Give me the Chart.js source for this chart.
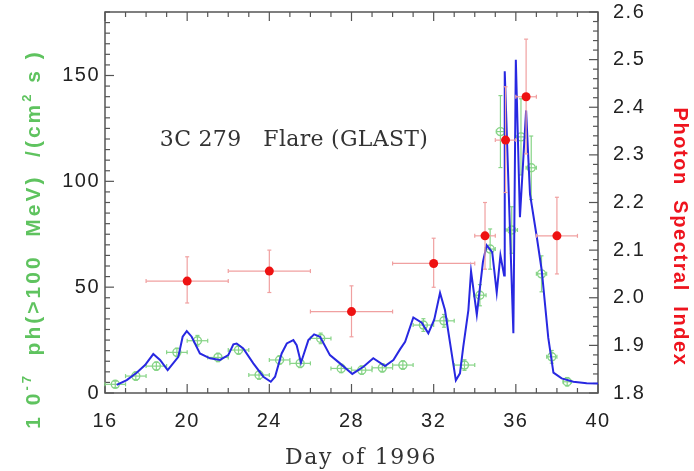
<!DOCTYPE html>
<html><head><meta charset="utf-8">
<script src="https://cdn.jsdelivr.net/npm/chart.js@4.4.1/dist/chart.umd.min.js"></script>
<style>html,body{margin:0;padding:0;background:#fff;}</style>
</head><body>
<canvas id="c" width="694" height="471"></canvas>
<script>
// ---- tick labels ----
const xTicks = [16, 20, 24, 28, 32, 36, 40];
const fluxTicks = [0, 50, 100, 150];
const indexTicks = [1.8, 1.9, 2.0, 2.1, 2.2, 2.3, 2.4, 2.5, 2.6];

// ---- blue light curve (Day of 1996, flux 1e-7 ph/cm2/s) ----
const lineDays = [16.57,17.06,17.54,17.95,18.35,18.68,19.05,19.57,19.78,19.98,20.22,20.62,21.11,21.60,22.00,22.25,22.41,22.73,23.22,23.71,24.07,24.28,24.60,24.85,25.17,25.33,25.54,25.90,26.18,26.47,26.95,27.44,28.04,28.58,29.06,29.63,30.04,30.36,30.61,31.01,31.42,31.74,32.03,32.31,32.55,33.08,33.28,33.44,33.69,33.82,34.10,34.40,34.58,34.85,35.07,35.25,35.43,35.46,35.88,36.00,36.20,36.50,36.69,37.02,37.26,37.58,37.83,38.23,38.80,39.45,40.00];
const lineFlux = [3.8,6.1,9.6,13.2,18.4,15.6,10.8,17.1,26.6,29.2,26.6,18.7,16.4,15.6,17.9,23.0,23.4,21.1,14.0,7.7,5.3,7.7,18.7,23.4,25.0,22.6,14.3,25.0,27.7,26.6,17.9,14.0,9.0,12.4,16.4,12.7,15.6,20.6,24.2,35.7,33.2,28.2,34.8,47.3,39.2,6.0,9.3,21.8,39.2,57.5,37.0,62.0,69.8,66.5,47.5,65.0,55.5,152.0,28.2,157.4,83.0,133.5,94.0,73.7,58.0,26.0,9.6,6.9,5.3,4.6,4.5];

// ---- green flux points with errors ----
const gDays = [16.5,17.5,18.5,19.5,20.5,21.5,22.5,23.5,24.5,25.5,26.5,27.5,28.5,29.5,30.5,31.5,32.5,33.5,34.25,34.75,35.25,35.8,36.25,36.75,37.25,37.75,38.5];
const gFlux = [4.1,8.0,12.7,19.2,24.7,16.8,20.3,8.5,15.6,14.0,25.8,11.6,10.8,11.9,13.2,32.1,34.1,13.2,46.2,68.0,123.5,77.0,121.0,106.4,56.3,17.1,5.3];
const gDayErr = [0.5,0.5,0.5,0.5,0.5,0.5,0.5,0.5,0.5,0.5,0.5,0.5,0.5,0.5,0.5,0.5,0.5,0.5,0.3,0.25,0.2,0.28,0.2,0.25,0.25,0.25,0.2];
const gFluxErr = [1.5,2,2,2,2.5,2,2,2,2,2,2.5,2,2,2,2,3,3,2.5,5,9.5,17,11,18,15,8.5,3,2];

// ---- red spectral index points with errors ----
const rDays = [20, 24, 28, 32, 34.5, 35.5, 36.5, 38];
const rIndex = [2.035, 2.056, 1.971, 2.072, 2.130, 2.331, 2.422, 2.130];
const rDayLo = [18, 22, 26, 30, 34, 35, 36, 37];
const rDayHi = [22, 26, 30, 34, 35, 36, 37, 39];
const rIdxLo = [1.989, 2.011, 1.918, 2.022, 2.060, 2.221, 2.302, 2.050];
const rIdxHi = [2.086, 2.100, 2.025, 2.125, 2.200, 2.443, 2.543, 2.211];

const xMinorStep = 1, xMajorStep = 4;
const fluxMinorStep = 5, fluxMajorStep = 50;
const idxMinorStep = 0.02, idxMajorStep = 0.1;

const BLUE = 'rgb(40,40,225)';
const GREEN_MK = 'rgb(135,212,135)';
const RED = 'rgb(238,18,18)';
const RED_ERR = 'rgb(240,160,160)';

function seg(ctx, x1, y1, x2, y2) { ctx.beginPath(); ctx.moveTo(x1, y1); ctx.lineTo(x2, y2); ctx.stroke(); }

const framePlugin = {
  id: 'frame',
  beforeUpdate(chart) { chart.ctx.letterSpacing = '1.5px'; },
  beforeDraw(chart) { chart.ctx.letterSpacing = '1.5px'; },
  beforeDatasetsDraw(chart) {
    const { ctx, chartArea: a, scales } = chart;
    ctx.save();
    ctx.strokeStyle = '#555';
    ctx.lineWidth = 1.5;
    ctx.strokeRect(a.left, a.top, a.right - a.left, a.bottom - a.top);
    ctx.lineWidth = 1.2;
    const xs = scales.x;
    for (let i = 0; xs.min + i * xMinorStep <= xs.max + 1e-9; i++) {
      const v = xs.min + i * xMinorStep;
      const p = xs.getPixelForValue(v);
      const L = Math.abs(v / xMajorStep - Math.round(v / xMajorStep)) < 1e-6 ? 9 : 5;
      seg(ctx, p, a.bottom, p, a.bottom - L);
      seg(ctx, p, a.top, p, a.top + L);
    }
    const ys = scales.y;
    for (let i = 0; ys.min + i * fluxMinorStep <= ys.max + 1e-9; i++) {
      const v = ys.min + i * fluxMinorStep;
      const p = ys.getPixelForValue(v);
      const L = Math.abs(v / fluxMajorStep - Math.round(v / fluxMajorStep)) < 1e-6 ? 9 : 5;
      seg(ctx, a.left, p, a.left + L, p);
    }
    const rs = scales.y2;
    for (let i = 0; rs.min + i * idxMinorStep <= rs.max + 1e-9; i++) {
      const v = rs.min + i * idxMinorStep;
      const p = rs.getPixelForValue(v);
      const L = Math.abs(v / idxMajorStep - Math.round(v / idxMajorStep)) < 1e-6 ? 9 : 5;
      seg(ctx, a.right, p, a.right - L, p);
    }
    ctx.restore();
  },
  beforeDatasetDraw(chart, args) {
    const { ctx, scales } = chart;
    const ds = chart.data.datasets[args.index];
    ctx.save();
    ctx.letterSpacing = '0px';
    if (ds.label === 'flux points') {
      ctx.strokeStyle = GREEN_MK; ctx.lineWidth = 1.2;
      const xs = scales.x, ys = scales.y;
      gDays.forEach((d, i) => {
        const x1 = xs.getPixelForValue(d - gDayErr[i]), x2 = xs.getPixelForValue(d + gDayErr[i]);
        const y = ys.getPixelForValue(gFlux[i]);
        const y1 = ys.getPixelForValue(gFlux[i] - gFluxErr[i]), y2 = ys.getPixelForValue(gFlux[i] + gFluxErr[i]);
        const xc = xs.getPixelForValue(d);
        seg(ctx, x1, y, x2, y); seg(ctx, x1, y - 2, x1, y + 2); seg(ctx, x2, y - 2, x2, y + 2);
        seg(ctx, xc, y1, xc, y2); seg(ctx, xc - 2, y1, xc + 2, y1); seg(ctx, xc - 2, y2, xc + 2, y2);
      });
    }
    if (ds.label === 'spectral index') {
      ctx.strokeStyle = RED_ERR; ctx.lineWidth = 1.2;
      const xs = scales.x, ys = scales.y2;
      rDays.forEach((d, i) => {
        const x1 = xs.getPixelForValue(rDayLo[i]), x2 = xs.getPixelForValue(rDayHi[i]);
        const y = ys.getPixelForValue(rIndex[i]);
        const y1 = ys.getPixelForValue(rIdxLo[i]), y2 = ys.getPixelForValue(rIdxHi[i]);
        const xc = xs.getPixelForValue(d);
        seg(ctx, x1, y, x2, y); seg(ctx, x1, y - 2, x1, y + 2); seg(ctx, x2, y - 2, x2, y + 2);
        seg(ctx, xc, y1, xc, y2); seg(ctx, xc - 2, y1, xc + 2, y1); seg(ctx, xc - 2, y2, xc + 2, y2);
      });
    }
    ctx.restore();
  },
  afterDraw(chart) {
    const { ctx } = chart;
    ctx.save();
    // in-plot label
    ctx.letterSpacing = '0.3px';
    ctx.fillStyle = '#333';
    ctx.font = '22px "DejaVu Serif"';
    ctx.textAlign = 'center'; ctx.textBaseline = 'middle';
    ctx.fillText('3C 279   Flare (GLAST)', 294, 140);
    // x axis title
    ctx.letterSpacing = '1.6px';
    ctx.fillText('Day of 1996', 361, 458);
    // right title
    ctx.save();
    ctx.translate(680, 237); ctx.rotate(Math.PI / 2);
    ctx.fillStyle = 'rgb(238,20,30)';
    ctx.font = 'bold 20px "Liberation Sans"';
    ctx.letterSpacing = '1.6px';
    ctx.fillText('Photon  Spectral  Index', 0, 0);
    ctx.restore();
    // left title with superscripts
    ctx.save();
    ctx.translate(33, 239); ctx.rotate(-Math.PI / 2);
    ctx.fillStyle = 'rgb(95,195,95)';
    ctx.letterSpacing = '3px';
    ctx.textAlign = 'left'; ctx.textBaseline = 'alphabetic';
    const parts = [
      ['1 0', 'bold 21px "Liberation Sans"', 0],
      ['-7', 'bold 13px "Liberation Sans"', -9],
      ['  ph(>100  MeV)  /(cm', 'bold 21px "Liberation Sans"', 0],
      ['2', 'bold 13px "Liberation Sans"', -9],
      [' s )', 'bold 21px "Liberation Sans"', 0]
    ];
    let total = 0;
    parts.forEach(p => { ctx.font = p[1]; total += ctx.measureText(p[0]).width; });
    let x = -total / 2;
    parts.forEach(p => { ctx.font = p[1]; ctx.fillText(p[0], x, 7 + p[2]); x += ctx.measureText(p[0]).width; });
    ctx.restore();
    ctx.restore();
  }
};

const tickFont = { family: 'Liberation Sans', size: 20 };

new Chart(document.getElementById('c'), {
  type: 'scatter',
  data: {
    datasets: [
      {
        label: 'spectral index', yAxisID: 'y2', order: 0,
        data: rDays.map((d, i) => ({ x: d, y: rIndex[i] })),
        pointRadius: 4.5, pointBackgroundColor: RED, pointBorderColor: RED, pointBorderWidth: 0
      },
      {
        type: 'line', label: 'light curve', yAxisID: 'y', order: 1,
        data: lineDays.map((d, i) => ({ x: d, y: lineFlux[i] })),
        borderColor: BLUE, borderWidth: 2, pointRadius: 0, tension: 0, fill: false
      },
      {
        label: 'flux points', yAxisID: 'y', order: 2,
        data: gDays.map((d, i) => ({ x: d, y: gFlux[i] })),
        pointRadius: 4, pointBackgroundColor: 'rgba(0,0,0,0)', pointBorderColor: GREEN_MK, pointBorderWidth: 1.4
      }
    ]
  },
  options: {
    responsive: false, animation: false, devicePixelRatio: 1,
    layout: { padding: { top: 12, left: 0, right: 0, bottom: 0 } },
    plugins: { legend: { display: false }, tooltip: { enabled: false } },
    scales: {
      x: {
        type: 'linear', position: 'bottom', min: 16, max: 40,
        afterBuildTicks: s => { s.ticks = xTicks.map(v => ({ value: v })); },
        afterFit: s => { s.height = 78; s.paddingLeft = 0; s.paddingRight = 0; },
        grid: { display: false, drawTicks: false }, border: { display: false },
        ticks: { padding: 16, color: '#222', font: tickFont, maxRotation: 0 }
      },
      y: {
        type: 'linear', position: 'left', min: 0, max: 180,
        afterBuildTicks: s => { s.ticks = fluxTicks.map(v => ({ value: v })); },
        afterFit: s => { s.width = 105; s.paddingTop = 0; s.paddingBottom = 0; },
        grid: { display: false, drawTicks: false }, border: { display: false },
        ticks: { padding: 5, color: '#222', font: tickFont }
      },
      y2: {
        type: 'linear', position: 'right', min: 1.8, max: 2.6,
        afterBuildTicks: s => { s.ticks = indexTicks.map(v => ({ value: v })); },
        afterFit: s => { s.width = 96; s.paddingTop = 0; s.paddingBottom = 0; },
        grid: { display: false, drawTicks: false }, border: { display: false },
        ticks: { padding: 15, color: '#222', font: tickFont, callback: v => v.toFixed(1) }
      }
    }
  },
  plugins: [framePlugin]
});
</script>
</body></html>
